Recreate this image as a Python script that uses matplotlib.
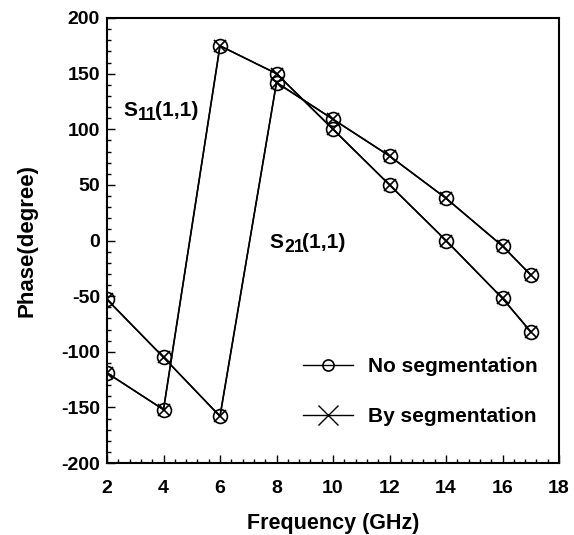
import matplotlib
matplotlib.use("Agg")
import matplotlib.pyplot as plt
from matplotlib.lines import Line2D
from matplotlib.ticker import MultipleLocator

plt.rcParams['font.family'] = ['Liberation Sans', 'DejaVu Sans']
plt.rcParams['font.weight'] = 'bold'
plt.rcParams['axes.unicode_minus'] = False

freq = [2, 4, 6, 8, 10, 12, 14, 16, 17]
s11_no_seg = [-119, -152, 175, 150, 100, 50, 0, -52, -82]
s11_by_seg = [-119, -152, 175, 150, 100, 50, 0, -52, -82]
s21_no_seg = [-53, -105, -158, 142, 109, 76, 38, -5, -31]
s21_by_seg = [-53, -105, -158, 142, 109, 76, 38, -5, -31]

x_ticks = [2, 4, 6, 8, 10, 12, 14, 16, 18]
y_ticks = [-200, -150, -100, -50, 0, 50, 100, 150, 200]

fig = plt.figure(figsize=(5.74, 5.35), dpi=100)
ax = fig.add_axes([107/574, 1-463/535, (559-107)/574, (463-18)/535])

for ys in (s11_no_seg, s21_no_seg):
    ax.plot(freq, ys, color='black', lw=1.2, marker='o', ms=10,
            mfc='none', mec='black', mew=1.2)
for ys in (s11_by_seg, s21_by_seg):
    ax.plot(freq, ys, color='black', lw=1.0, marker='x', ms=8.5,
            mec='black', mew=1.2)

ax.set_xlim(2, 18)
ax.set_ylim(-200, 200)
ax.set_xticks(x_ticks)
ax.set_yticks(y_ticks)
ax.xaxis.set_minor_locator(MultipleLocator(0.4))
ax.yaxis.set_minor_locator(MultipleLocator(10))
ax.tick_params(which='both', direction='in', top=False, right=False,
               labelsize=14, width=1.0)
ax.tick_params(axis='x', which='major', length=6, pad=12)
ax.tick_params(axis='y', which='major', length=6, pad=5)
ax.tick_params(which='minor', length=3)
for lab in ax.get_xticklabels() + ax.get_yticklabels():
    lab.set_fontweight('bold')
for sp in ax.spines.values():
    sp.set_linewidth(1.5)

ax.set_xlabel('Frequency (GHz)', fontsize=15.5, fontweight='bold', labelpad=12)
ax.set_ylabel('Phase(degree)', fontsize=16, fontweight='bold', labelpad=17)

fig.canvas.draw()
renderer = fig.canvas.get_renderer()


def sub_label(x, y, main, sub, rest, size):
    t1 = ax.text(x, y, main, fontsize=size, fontweight='bold',
                 ha='left', va='baseline')
    w1 = t1.get_window_extent(renderer).width
    t2 = ax.annotate(sub, xy=(x, y), xycoords='data', xytext=(w1 + 1, -4),
                     textcoords='offset pixels', fontsize=size * 0.85,
                     fontweight='bold', ha='left', va='baseline')
    w2 = t2.get_window_extent(renderer).width
    ax.annotate(rest, xy=(x, y), xycoords='data', xytext=(w1 + w2 - 1, 0),
                textcoords='offset pixels', fontsize=size,
                fontweight='bold', ha='left', va='baseline')


sub_label(2.57, 112, 'S', '11', '(1,1)', 15)
sub_label(7.75, -7, 'S', '21', '(1,1)', 15)

handles = [
    Line2D([], [], color='black', lw=1.0, marker='o', ms=8, mfc='none', mew=1.2),
    Line2D([], [], color='black', lw=1.0, marker='x', ms=15, mew=1.0),
]
leg = ax.legend(handles, ['No segmentation', 'By segmentation'],
                loc='lower right', bbox_to_anchor=(0.995, 0.04),
                frameon=False, fontsize=15, handlelength=2.4,
                labelspacing=1.5, handletextpad=0.75)
for t in leg.get_texts():
    t.set_fontweight('bold')

fig.savefig('out.png', dpi=100)
